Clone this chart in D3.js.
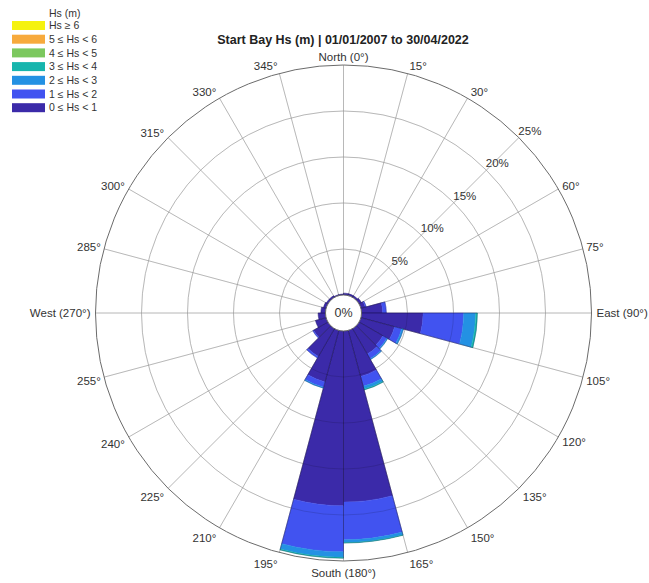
<!DOCTYPE html>
<html><head><meta charset="utf-8">
<script src="https://cdn.jsdelivr.net/npm/d3@7"></script>
<style>body{margin:0;background:#fff;} svg{display:block;font-family:"Liberation Sans",Arial,sans-serif;}</style>
</head><body>
<svg id="c" width="649" height="583"></svg>
<script>
const title = "Start Bay Hs (m) | 01/01/2007 to 30/04/2022";
const dirStarts = [0,15,30,45,60,75,90,105,120,135,150,165,180,195,210,225,240,255,270,285,300,315,330,345];
const classLabels = ["0 \u2264 Hs < 1","1 \u2264 Hs < 2","2 \u2264 Hs < 3","3 \u2264 Hs < 4","4 \u2264 Hs < 5","5 \u2264 Hs < 6","Hs \u2265 6"];
const classColors = ["#3b2aa9","#4153f0","#2391e3","#17b5ad","#7cc85e","#f7aa3c","#f5f20f"];
// percent frequency per direction bin for each Hs class
const hs0_1 = [0.2,0.2,0.2,0.3,0.5,2.3,6.7,3.8,3.0,3.2,5.2,18.6,19.0,5.8,3.5,1.8,1.2,0.8,0.5,0.3,0.2,0.2,0.1,0.1];
const hs1_2 = [0,0,0,0,0.1,0.4,4.4,0.8,0.5,0.6,1.1,4.1,5.0,0.6,0.2,0.1,0,0,0,0,0,0,0,0];
const hs2_3 = [0,0,0,0,0,0,1.3,0.2,0.1,0.1,0.3,0.3,0.6,0.1,0,0,0,0,0,0,0,0,0,0];
const hs3_4 = [0,0,0,0,0,0,0.2,0,0,0,0.1,0.05,0.1,0,0,0,0,0,0,0,0,0,0,0];
const hs4_5 = new Array(24).fill(0);
const hs5_6 = new Array(24).fill(0);
const hs6p  = new Array(24).fill(0);
const series = [hs0_1,hs1_2,hs2_3,hs3_4,hs4_5,hs5_6,hs6p];
const ringTicks = [5,10,15,20,25];
const angleTicks = d3.range(0,360,15);
const angleLabelTicks = angleTicks.filter(a=>a!==45);
const angleNames = {0:"North (0\u00b0)",90:"East (90\u00b0)",180:"South (180\u00b0)",270:"West (270\u00b0)"};

const svg = d3.select("#c");
const cx = 343.5, cy = 313;
const r = d3.scaleLinear().domain([0,25]).range([18,248]);
const g = svg.append("g").attr("transform",`translate(${cx},${cy})`);
const rad = a => a*Math.PI/180;

// grid
const grid = g.append("g");
ringTicks.slice(0,-1).forEach(t=>{
  grid.append("circle").attr("r",r(t)).attr("fill","none").attr("stroke","#d4d4d4").attr("stroke-width",1);
});
angleTicks.forEach(a=>{
  grid.append("line").attr("x1",r(0)*Math.sin(rad(a))).attr("y1",-r(0)*Math.cos(rad(a)))
    .attr("x2",r(25)*Math.sin(rad(a))).attr("y2",-r(25)*Math.cos(rad(a)))
    .attr("stroke","#d4d4d4").attr("stroke-width",1);
});

// bars
const arc = d3.arc();
const bars = g.append("g");
dirStarts.forEach((d,i)=>{
  let cum = 0;
  series.forEach((s,k)=>{
    const v = s[i];
    if(v<=0) return;
    bars.append("path").attr("d",arc({innerRadius:r(cum),outerRadius:r(cum+v),startAngle:rad(d),endAngle:rad(d+15)}))
      .attr("fill",classColors[k]).attr("stroke",classColors[k]).attr("stroke-width",0.4);
    cum += v;
  });
  if(cum>0){
    bars.append("path").attr("d",arc({innerRadius:r(0),outerRadius:r(cum),startAngle:rad(d),endAngle:rad(d+15)}))
      .attr("fill","none").attr("stroke","rgba(20,10,60,0.45)").attr("stroke-width",0.6);
  }
});

// grid overlay on top of bars
const over = g.append("g");
ringTicks.slice(0,-1).forEach(t=>{
  over.append("circle").attr("r",r(t)).attr("fill","none").attr("stroke","rgba(0,0,0,0.13)").attr("stroke-width",1);
});
angleTicks.forEach(a=>{
  over.append("line").attr("x1",r(0)*Math.sin(rad(a))).attr("y1",-r(0)*Math.cos(rad(a)))
    .attr("x2",r(25)*Math.sin(rad(a))).attr("y2",-r(25)*Math.cos(rad(a)))
    .attr("stroke","rgba(0,0,0,0.13)").attr("stroke-width",1);
});
// outer ring
g.append("circle").attr("r",r(25)).attr("fill","none").attr("stroke","#6b6b6b").attr("stroke-width",1);
// centre
g.append("circle").attr("r",r(0)).attr("fill","#fff").attr("stroke","#666").attr("stroke-width",1);
g.append("text").attr("x",0).attr("y",0).attr("dy","0.35em").attr("text-anchor","middle")
  .attr("font-size",12.5).attr("fill","#333").text("0%");

// ring labels along 45 deg
ringTicks.forEach(t=>{
  const p = r(t)/Math.SQRT2;
  g.append("text").attr("x",p+11).attr("y",-p-7).attr("dy","0.35em").attr("text-anchor","middle")
    .attr("font-size",11.5).attr("fill","#333").text(t+"%");
});

// angle labels
angleLabelTicks.forEach(a=>{
  const s = Math.sin(rad(a)), c = Math.cos(rad(a));
  const R = (Math.abs(c)<0.01 ? 253 : 250 + 5*Math.abs(c));
  const x = R*s, y = -R*c;
  const anchor = s>0.1?"start":(s<-0.1?"end":"middle");
  let dy = "0.35em";
  if(c>0.5) dy = "0.3em"; else if(c<-0.5) dy = "0.8em";
  else if(c>0.1) dy="0.3em"; else if(c<-0.1) dy="0.6em";
  g.append("text").attr("x",x).attr("y",y).attr("dy",dy).attr("text-anchor",anchor)
    .attr("font-size",11.5).attr("fill","#333").text(angleNames[a]||(a+"\u00b0"));
});

// title
svg.append("text").attr("x",343).attr("y",44).attr("text-anchor","middle")
  .attr("font-size",12.5).attr("font-weight","bold").attr("fill","#222").text(title);

// legend
const lg = svg.append("g");
lg.append("text").attr("x",49).attr("y",17).attr("font-size",10.5).attr("fill","#333").text("Hs (m)");
const order = [6,5,4,3,2,1,0];
order.forEach((k,j)=>{
  const y = 21 + j*13.7;
  lg.append("rect").attr("x",12).attr("y",y).attr("width",33).attr("height",9).attr("fill",classColors[k]);
  lg.append("text").attr("x",49).attr("y",y+4.5).attr("dy","0.35em").attr("font-size",10.5).attr("fill","#333").text(classLabels[k]);
});
</script>
</body></html>
